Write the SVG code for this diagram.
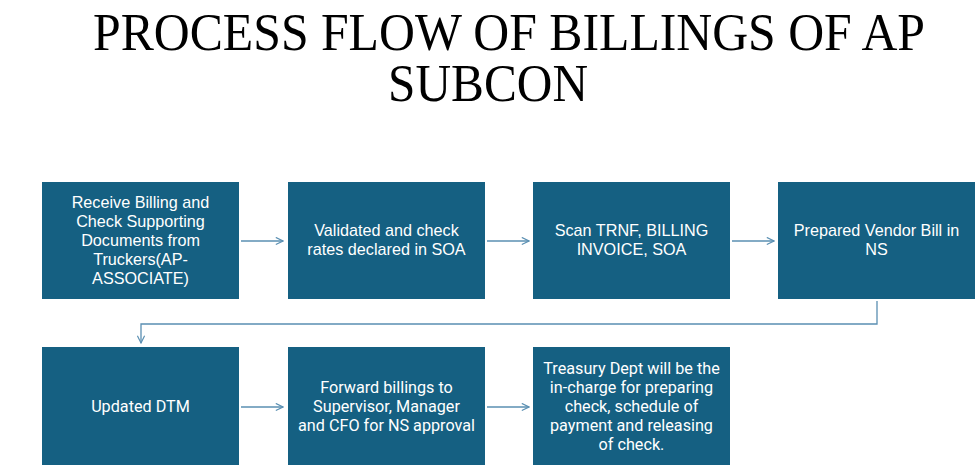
<svg xmlns="http://www.w3.org/2000/svg" width="975" height="468" viewBox="0 0 975 468">
<style>
.box{fill:#156082}
.t{font-family:"Liberation Sans","Open Sans",sans-serif;font-size:16.2px;fill:#ffffff;text-anchor:middle}
.tn{font-family:"Roboto","Liberation Sans",sans-serif;font-size:16.2px;fill:#ffffff;text-anchor:middle}
.title{font-family:"Liberation Serif","Times New Roman",serif;font-size:53px;fill:#000;text-anchor:middle}
.c{fill:none;stroke:#5a8fb2;stroke-width:1.3}
</style>
<defs>
<marker id="ah" viewBox="0 0 10 10" refX="9" refY="5" markerWidth="9" markerHeight="9" markerUnits="userSpaceOnUse" orient="auto">
<path d="M1,1 L9,5 L1,9" fill="none" stroke="#5a8fb2" stroke-width="1.3"/>
</marker>
</defs>
<rect width="975" height="468" fill="#ffffff"/>
<g id="title">
<text class="title" x="509" y="50" textLength="832" lengthAdjust="spacingAndGlyphs">PROCESS FLOW OF BILLINGS OF AP</text>
<text class="title" x="488" y="101" textLength="200" lengthAdjust="spacingAndGlyphs">SUBCON</text>
</g>
<g id="connectors">
<path class="c" d="M241,241 H283" marker-end="url(#ah)"/>
<path class="c" d="M487,241 H529" marker-end="url(#ah)"/>
<path class="c" d="M732,241 H774" marker-end="url(#ah)"/>
<path class="c" d="M877,301 V324 H141 V343" marker-end="url(#ah)"/>
<path class="c" d="M241,407 H283" marker-end="url(#ah)"/>
<path class="c" d="M487,407 H529" marker-end="url(#ah)"/>
</g>
<g id="n1">
<rect class="box" x="42" y="182" width="197" height="117"/>
<text class="t" x="140.5" y="208">Receive Billing and</text>
<text class="t" x="140.5" y="227">Check  Supporting</text>
<text class="t" x="140.5" y="246">Documents from</text>
<text class="t" x="140.5" y="265">Truckers(AP-</text>
<text class="t" x="140.5" y="284">ASSOCIATE)</text>
</g>
<g id="n2">
<rect class="box" x="288" y="182" width="197" height="117"/>
<text class="t" x="386.5" y="236">Validated and check</text>
<text class="t" x="386.5" y="255">rates declared in SOA</text>
</g>
<g id="n3">
<rect class="box" x="533" y="182" width="197" height="117"/>
<text class="t" x="631.5" y="236">Scan TRNF, BILLING</text>
<text class="t" x="631.5" y="255">INVOICE, SOA</text>
</g>
<g id="n4">
<rect class="box" x="778" y="182" width="197" height="117"/>
<text class="t" x="876.5" y="236">Prepared Vendor Bill in</text>
<text class="t" x="876.5" y="255">NS</text>
</g>
<g id="n5">
<rect class="box" x="42" y="347" width="197" height="118"/>
<text class="tn" x="140.5" y="412">Updated DTM</text>
</g>
<g id="n6">
<rect class="box" x="288" y="347" width="197" height="118"/>
<text class="tn" x="386.5" y="393">Forward billings to</text>
<text class="tn" x="386.5" y="412">Supervisor, Manager</text>
<text class="tn" x="386.5" y="431">and CFO for NS approval</text>
</g>
<g id="n7">
<rect class="box" x="533" y="347" width="197" height="118"/>
<text class="tn" x="631.5" y="374">Treasury Dept will be the</text>
<text class="tn" x="631.5" y="393">in-charge for preparing</text>
<text class="tn" x="631.5" y="412">check, schedule of</text>
<text class="tn" x="631.5" y="431">payment and releasing</text>
<text class="tn" x="631.5" y="450">of check.</text>
</g>
</svg>
